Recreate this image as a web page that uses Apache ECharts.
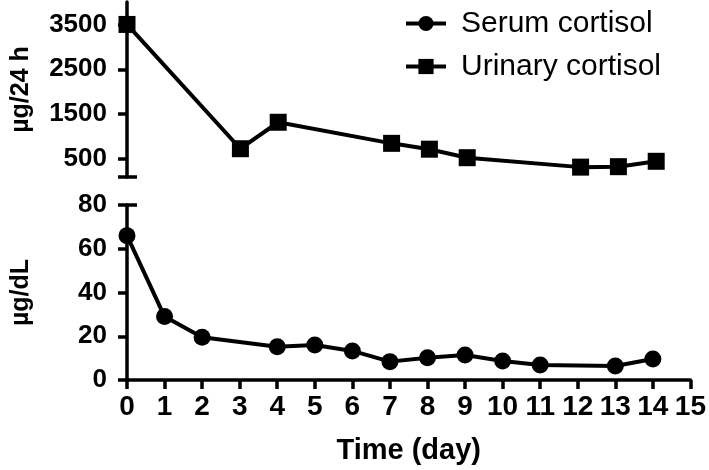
<!DOCTYPE html>
<html>
<head>
<meta charset="utf-8">
<script src="https://cdn.jsdelivr.net/npm/echarts@6/dist/echarts.min.js"></script>
<style>html,body{margin:0;padding:0;background:#fff;}#c{width:709px;height:470px;}</style>
</head>
<body>
<div id="c"></div>
<script>
var serumDays = [0, 1, 2, 4, 5, 6, 7, 8, 9, 10, 11, 13, 14];
var serumValues = [66, 29, 19.5, 15.2, 16, 13.3, 8.4, 10.2, 11.4, 8.7, 6.9, 6.4, 9.6];
var urinaryDays = [0, 3, 4, 7, 8, 9, 12, 13, 14];
var urinaryValues = [3500, 730, 1320, 850, 720, 530, 320, 330, 450];
var urinaryTicks = [500, 1500, 2500, 3500];
var serumTicks = [0, 20, 40, 60, 80];
var dayTicks = [0, 1, 2, 3, 4, 5, 6, 7, 8, 9, 10, 11, 12, 13, 14, 15];

function pairs(xs, ys) { return xs.map(function (x, i) { return [x, ys[i]]; }); }
function plain(v) { return String(v); }

var FONT = '"Liberation Sans", Arial, sans-serif';
var lineStyle = { color: '#000', width: 3.5 };
var tickStyle = { color: '#000', width: 3.5 };

var chart = echarts.init(document.getElementById('c'));
chart.setOption({
  animation: false,
  backgroundColor: '#fff',
  textStyle: { fontFamily: FONT, color: '#000' },
  legend: {
    orient: 'vertical',
    left: 399,
    top: 2,
    itemWidth: 40,
    itemHeight: 19,
    itemGap: 10,
    lineStyle: { width: 4, color: '#000' },
    textStyle: { fontFamily: FONT, fontSize: 30, color: '#000', lineHeight: 33, padding: [0, 0, 0, 10] },
    data: ['Serum cortisol', 'Urinary cortisol']
  },
  grid: [
    { left: 127, right: 15, top: 2, bottom: 293 },
    { left: 127, right: 15, top: 205, bottom: 90 }
  ],
  xAxis: [
    { gridIndex: 0, type: 'value', min: 0, max: 15, interval: 1, show: false },
    {
      gridIndex: 1, type: 'value', min: 0, max: 15, interval: 1,
      name: 'Time (day)', nameLocation: 'middle', nameGap: 56,
      nameTextStyle: { fontFamily: FONT, fontSize: 29, fontWeight: 'bold', color: '#000' },
      axisLine: { lineStyle: lineStyle },
      axisTick: { show: true, length: 9, lineStyle: tickStyle, customValues: dayTicks },
      axisLabel: { fontFamily: FONT, fontSize: 28, fontWeight: 'bold', color: '#000', margin: 13, customValues: dayTicks, formatter: plain },
      splitLine: { show: false }
    }
  ],
  yAxis: [
    {
      gridIndex: 0, type: 'value', min: 100, max: 4000,
      name: 'µg/24 h', nameLocation: 'middle', nameGap: 93,
      nameTextStyle: { fontFamily: FONT, fontSize: 25, fontWeight: 'bold', color: '#000' },
      axisLine: { show: true, lineStyle: lineStyle },
      axisTick: { show: true, length: 9, lineStyle: tickStyle, customValues: [100].concat(urinaryTicks) },
      axisLabel: { fontFamily: FONT, fontSize: 26, fontWeight: 'bold', color: '#000', margin: 20, customValues: urinaryTicks, formatter: plain },
      splitLine: { show: false }
    },
    {
      gridIndex: 0, type: 'value', min: 100, max: 4000, position: 'left',
      axisLine: { show: false },
      axisTick: { show: true, inside: true, length: 10, lineStyle: tickStyle, customValues: [100] },
      axisLabel: { show: false },
      splitLine: { show: false }
    },
    {
      gridIndex: 1, type: 'value', min: 0, max: 80, interval: 20,
      name: 'µg/dL', nameLocation: 'middle', nameGap: 93,
      nameTextStyle: { fontFamily: FONT, fontSize: 25, fontWeight: 'bold', color: '#000' },
      axisLine: { show: true, lineStyle: lineStyle },
      axisTick: { show: true, length: 9, lineStyle: tickStyle, customValues: serumTicks },
      axisLabel: { fontFamily: FONT, fontSize: 26, fontWeight: 'bold', color: '#000', margin: 20, customValues: serumTicks, formatter: plain },
      splitLine: { show: false }
    },
    {
      gridIndex: 1, type: 'value', min: 0, max: 80, position: 'left',
      axisLine: { show: false },
      axisTick: { show: true, inside: true, length: 10, lineStyle: tickStyle, customValues: [80] },
      axisLabel: { show: false },
      splitLine: { show: false }
    }
  ],
  series: [
    {
      name: 'Serum cortisol', type: 'line', xAxisIndex: 1, yAxisIndex: 2,
      data: pairs(serumDays, serumValues),
      symbol: 'circle', symbolSize: 17,
      lineStyle: { color: '#000', width: 4 },
      itemStyle: { color: '#000' }
    },
    {
      name: 'Urinary cortisol', type: 'line', xAxisIndex: 0, yAxisIndex: 0,
      data: pairs(urinaryDays, urinaryValues),
      symbol: 'rect', symbolSize: 17,
      lineStyle: { color: '#000', width: 4 },
      itemStyle: { color: '#000' }
    }
  ]
});
</script>
</body>
</html>
